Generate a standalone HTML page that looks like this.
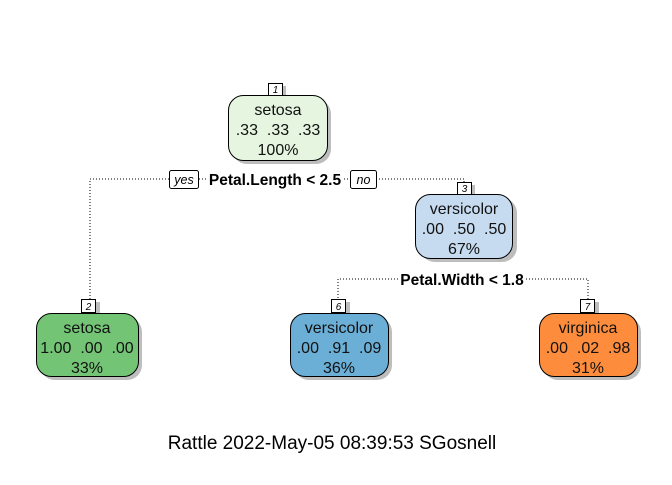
<!DOCTYPE html>
<html><head><style>
body{margin:0;background:#fff}
svg text{font-family:"Liberation Sans",Arial,sans-serif}
</style></head><body>
<svg width="672" height="480" viewBox="0 0 672 480" xmlns="http://www.w3.org/2000/svg">
<g stroke="#000" stroke-width="1" stroke-dasharray="1,2" fill="none">
<polyline points="169,179 90,179 90,299"/>
<line x1="199" y1="179" x2="206" y2="179"/>
<line x1="344" y1="179" x2="350" y2="179"/>
<polyline points="376,179 464,179 464,183"/>
<polyline points="398,279 338,279 338,299"/>
<polyline points="526,279 588,279 588,299"/>
</g>
<g fill="#bdbdbd">
<rect x="232" y="99" width="99" height="65" rx="15"/>
<rect x="420" y="198" width="97" height="64" rx="15"/>
<rect x="40" y="317" width="102" height="63" rx="15"/>
<rect x="294" y="317" width="98" height="63" rx="15"/>
<rect x="543" y="317" width="98" height="63" rx="15"/>
<rect x="271" y="86" width="15" height="12"/>
<rect x="460" y="185" width="15" height="12"/>
<rect x="85" y="302" width="15" height="13"/>
<rect x="335" y="302" width="15" height="13"/>
<rect x="584" y="302" width="15" height="13"/>
</g>
<g stroke="#000" stroke-width="1">
<rect x="228.5" y="95.5" width="99" height="65" rx="15" fill="#e5f5e0"/>
<rect x="415.5" y="194.5" width="97" height="64" rx="15" fill="#c6dbef"/>
<rect x="36.5" y="313.5" width="102" height="63" rx="15" fill="#74c476"/>
<rect x="290.5" y="313.5" width="98" height="63" rx="15" fill="#6baed6"/>
<rect x="539.5" y="313.5" width="98" height="63" rx="15" fill="#fd8d3c"/>
<rect x="268.5" y="83.5" width="14" height="12" fill="#fff"/>
<rect x="457.5" y="182.5" width="14" height="12" fill="#fff"/>
<rect x="81.5" y="299.5" width="14" height="13" fill="#fff"/>
<rect x="331.5" y="299.5" width="14" height="13" fill="#fff"/>
<rect x="580.5" y="299.5" width="14" height="13" fill="#fff"/>
<rect x="169.5" y="170.5" width="29" height="18" rx="2" fill="#fff"/>
<rect x="350.5" y="170.5" width="26" height="18" rx="2" fill="#fff"/>
</g>
<g font-size="10" font-style="italic" text-anchor="middle" fill="#000">
<text x="275.5" y="93">1</text>
<text x="464.5" y="192">3</text>
<text x="88.5" y="310">2</text>
<text x="338.5" y="310">6</text>
<text x="587.5" y="310">7</text>
</g>
<g font-size="12.5" font-style="italic" text-anchor="middle">
<text x="184" y="184">yes</text>
<text x="363.5" y="184">no</text>
</g>
<g font-size="15.5" font-weight="bold" text-anchor="middle">
<text x="275" y="185">Petal.Length &lt; 2.5</text>
<text x="462" y="285">Petal.Width &lt; 1.8</text>
</g>
<g font-size="16" text-anchor="middle" fill="#111">
<text x="278" y="115">setosa</text>
<text x="278" y="135" xml:space="preserve">.33  .33  .33</text>
<text x="278" y="155">100%</text>
<text x="464" y="214">versicolor</text>
<text x="464" y="234" xml:space="preserve">.00  .50  .50</text>
<text x="464" y="254">67%</text>
<text x="87" y="333">setosa</text>
<text x="87" y="353" xml:space="preserve">1.00  .00  .00</text>
<text x="87" y="373">33%</text>
<text x="339" y="333">versicolor</text>
<text x="339" y="353" xml:space="preserve">.00  .91  .09</text>
<text x="339" y="373">36%</text>
<text x="588" y="333">virginica</text>
<text x="588" y="353" xml:space="preserve">.00  .02  .98</text>
<text x="588" y="373">31%</text>
</g>
<text x="332" y="449" font-size="19" text-anchor="middle">Rattle 2022-May-05 08:39:53 SGosnell</text>
</svg>
</body></html>
